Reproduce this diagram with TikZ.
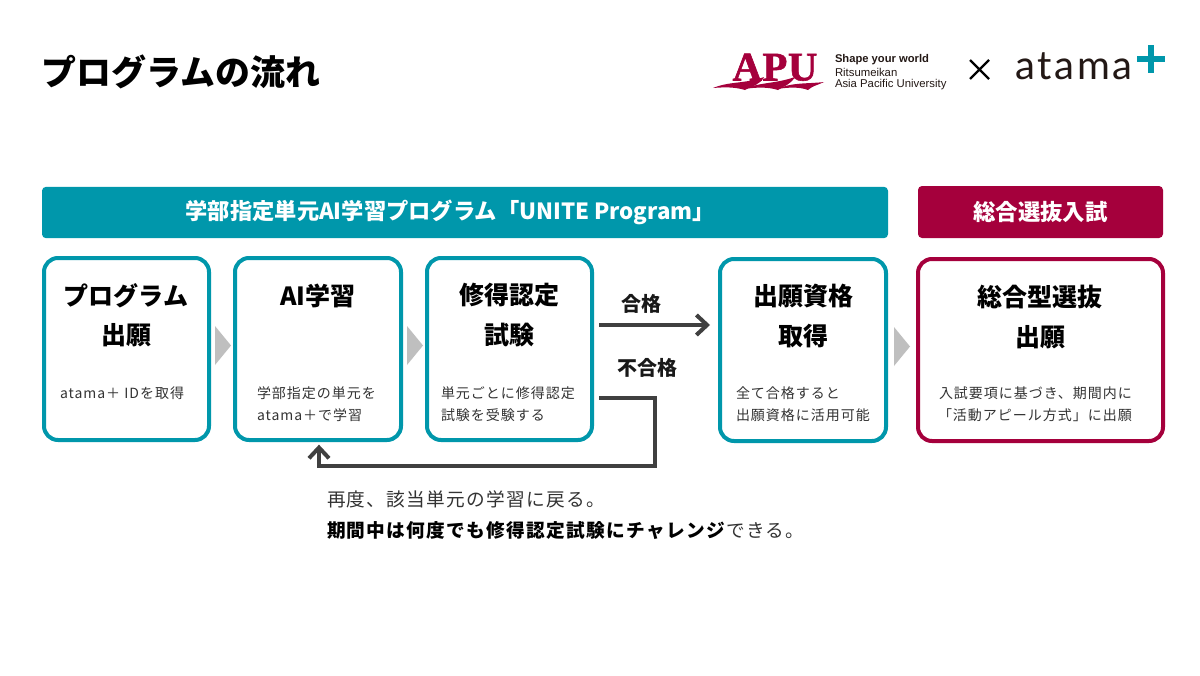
\documentclass[tikz,border=0pt]{standalone}
\usepackage{fontspec}
\usetikzlibrary{arrows.meta}
\setmainfont{Noto Sans CJK JP}
\newfontfamily\subf[LetterSpace=7]{Noto Sans CJK JP}
\newfontfamily\bodyf[LetterSpace=7]{Noto Sans CJK JP}
\newfontfamily\logosans{Liberation Sans}
\newfontfamily\logoserif[FakeBold=1.5,LetterSpace=1.5]{Liberation Serif}
\newfontfamily\atamaf[LetterSpace=7]{Lato}
\definecolor{teal}{HTML}{0097AB}
\definecolor{crim}{HTML}{A5003C}
\definecolor{flowc}{HTML}{404040}
\definecolor{tri}{HTML}{BFBFBF}
\definecolor{subc}{HTML}{333333}
\definecolor{atk}{HTML}{231815}
\tikzset{
  every node/.style={inner sep=0pt,outer sep=0pt},
  stepbox/.style={draw=teal,line width=3pt,rounded corners=10.5pt,fill=white,minimum height=136.5pt},
  goalbox/.style={stepbox,draw=crim},
  banner/.style={rounded corners=3pt,text=white,font=\fontsize{16.7pt}{20pt}\selectfont\bfseries,minimum height=38.5pt},
  boxtitle/.style={font=\fontsize{18.75pt}{22pt}\selectfont\bfseries,text=black},
  subtext/.style={font=\subf\fontsize{10.5pt}{12.5pt}\selectfont,text=subc,anchor=west},
  bodytext/.style={font=\bodyf\fontsize{14pt}{16pt}\selectfont,text=subc,anchor=west},
  flowlabel/.style={font=\fontsize{15pt}{18pt}\selectfont\bfseries,text=black!90},
  flow/.style={draw=flowc,line width=3pt,-{Straight Barb[length=8pt,width=15pt,line width=3pt]}},
  chev/.style={fill=tri},
}
\begin{document}
\begin{tikzpicture}[x=0.75pt,y=-0.75pt]
\useasboundingbox (0,0) rectangle (1200,675);
\fill[white] (0,0) rectangle (1200,675);

% title
\node[anchor=west,font=\fontsize{26.2pt}{30pt}\selectfont\bfseries,text=black] (title) at (41.5,72) {プログラムの流れ};

% APU logo
\node[anchor=base,text=crim,font=\logoserif\fontsize{30.5pt}{33pt}\selectfont\bfseries] (apu) at (775,80.5) {APU};
\fill[crim] (713,88) .. controls (730,81) and (745,84) .. (764,77) .. controls (760,85) and (752,86) .. (745,90) .. controls (735,87) and (725,87) .. (713,88) -- cycle;
\fill[crim] (744,89) .. controls (760,82) and (775,84) .. (795,77) .. controls (790,85) and (784,86) .. (778,90) .. controls (768,87) and (758,87) .. (744,89) -- cycle;
\fill[crim] (777,89) .. controls (793,82) and (808,84) .. (824,82) .. controls (818,85) and (812,86) .. (808,90) .. controls (800,87) and (790,87) .. (777,89) -- cycle;
\node[anchor=north west,align=left,text=atk,font=\logosans\fontsize{8.5pt}{8.1pt}\selectfont] (tagline) at (835,54.5)
  {{\fontsize{8.4pt}{8.1pt}\selectfont\bfseries Shape your world}\\[2.4pt]Ritsumeikan\\Asia Pacific University};
\draw[line width=1.7pt,black] (970,60) -- (989,79) (989,60) -- (970,79);
\node[anchor=base west,font=\atamaf\fontsize{30pt}{32pt}\selectfont,text=atk] (atama) at (1015,79) {atama};
\draw[teal,line width=5.2pt] (1137,59) -- (1165,59) (1151,45) -- (1151,73);

% banners
\node[banner,fill=teal,minimum width=634.5pt] (bannerA) at (465,212.5) {\raisebox{-2pt}{\hspace{-22pt}学部指定単元AI学習プログラム「UNITE Program」}};
\node[banner,fill=crim,minimum width=183.75pt,minimum height=39pt] (bannerB) at (1040.5,212) {\raisebox{-1.5pt}{\fontsize{16.8pt}{20pt}\selectfont 総合選抜入試}};

% boxes
\node[stepbox,minimum width=123.75pt] (box1) at (126.5,349) {};
\node[stepbox,minimum width=124.5pt] (box2) at (318,349) {};
\node[stepbox,minimum width=123.75pt] (box3) at (509.5,349) {};
\node[stepbox,minimum width=124.5pt] (box4) at (803,350) {};
\node[goalbox,minimum width=183.75pt] (box5) at (1040.5,350) {};

% box titles
\node[boxtitle] (t1a) at (126,295.5) {プログラム};
\node[boxtitle] (t1b) at (126,335) {出願};
\node[boxtitle] (t2a) at (318,295.5) {AI学習};
\node[boxtitle] (t3a) at (509.5,295.5) {修得認定};
\node[boxtitle] (t3b) at (509.5,335) {試験};
\node[boxtitle] (t4a) at (803,296.5) {出願資格};
\node[boxtitle] (t4b) at (803,336) {取得};
\node[boxtitle] (t5a) at (1040,297.5) {総合型選抜};
\node[boxtitle] (t5b) at (1040,337) {出願};

% box sub texts
\node[subtext] (s1) at (60,393) {atama＋ IDを取得};
\node[subtext] (s2a) at (257,393) {学部指定の単元を};
\node[subtext] (s2b) at (257,415) {atama＋で学習};
\node[subtext] (s3a) at (441,393) {単元ごとに修得認定};
\node[subtext] (s3b) at (441,415) {試験を受験する};
\node[subtext] (s4a) at (736,393) {全て合格すると};
\node[subtext] (s4b) at (736,415) {出願資格に活用可能};
\node[subtext] (s5a) at (939,393) {入試要項に基づき、期間内に};
\node[subtext] (s5b) at (938,415) {「活動アピール方式」に出願};

% chevrons between boxes
\fill[chev] (215,326) -- (231,345.5) -- (215,365) -- cycle;
\fill[chev] (407,326) -- (423,345.5) -- (407,365) -- cycle;
\fill[chev] (894,327) -- (910,346.5) -- (894,366) -- cycle;

% connectors
\coordinate (passS) at ([yshift=18pt]box3.east);
\coordinate (failS) at ([yshift=-36.75pt]box3.east);
\coordinate (failB) at ([xshift=0.75pt,yshift=-19.5pt]box2.south);
\coordinate (failE) at ([xshift=0.75pt]box2.south);
\draw[flow,shorten <=5.25pt,shorten >=7.5pt] (passS) -- (passS -| box4.west);
\draw[flow,shorten <=5.25pt,shorten >=3.5pt]
  (failS) -- ++(63,0) |- (failB) -- (failE);
\node[flowlabel] (pass) at (641,304) {合格};
\node[flowlabel] (fail) at (647,368) {不合格};

% body text
\node[bodytext] (b1) at (327,499) {再度、該当単元の学習に戻る。};
\node[bodytext] (b2) at (327,531) {\textcolor{black}{\textbf{期間中は何度でも修得認定試験にチャレンジ}}できる。};
\end{tikzpicture}
\end{document}
